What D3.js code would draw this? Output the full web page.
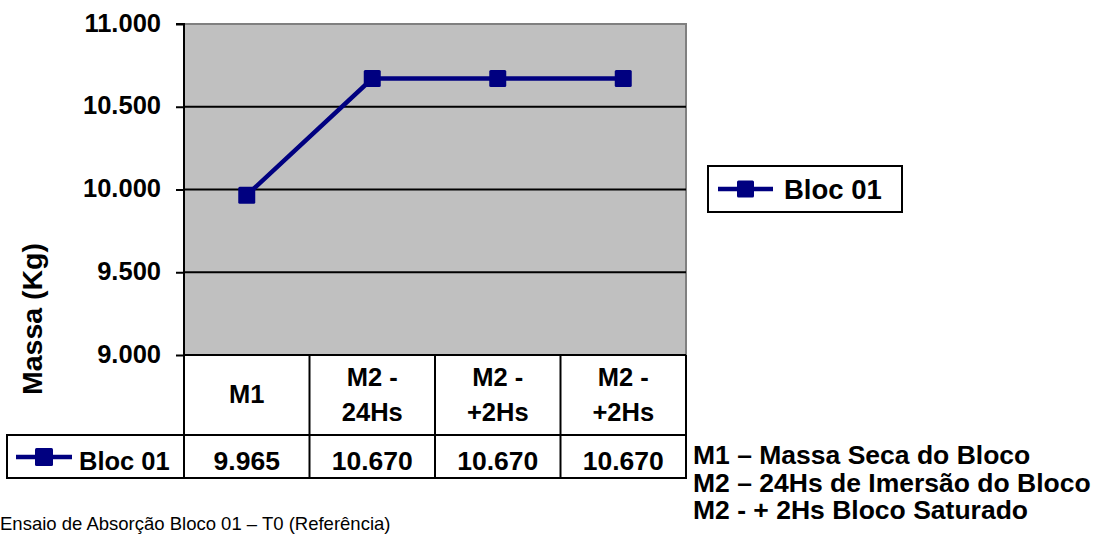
<!DOCTYPE html>
<html>
<head>
<meta charset="utf-8">
<script src="https://cdn.jsdelivr.net/npm/d3@7"></script>
<style>
  html, body { margin: 0; padding: 0; background: #fff; }
  text { font-family: "Liberation Sans", Arial, sans-serif; }
</style>
</head>
<body>
<svg id="chart" width="1106" height="541"></svg>
<script>
// Mass of block 01 across the absorption test stages (values in grams)
const categories = [["M1"], ["M2 -", "24Hs"], ["M2 -", "+2Hs"], ["M2 -", "+2Hs"]];
const seriesName = "Bloc 01";
const values = [9965, 10670, 10670, 10670];
const yTicks = [9000, 9500, 10000, 10500, 11000];
const notes = ["M1 – Massa Seca do Bloco", "M2 – 24Hs de Imersão do Bloco", "M2 - + 2Hs Bloco Saturado"];
const caption = "Ensaio de Absorção Bloco 01 – T0 (Referência)";
const yTitle = "Massa (Kg)";

// kg with three decimals, dot separator
const label = v => (v / 1000).toFixed(3);

const svg = d3.select("#chart");
const navy = "#000080";
const FS = 25.5;

const plot = { left: 184, right: 686, top: 24, bottom: 355 };
const tableLeft = 7, headerBottom = 435, rowBottom = 478;

const x = d3.scaleBand().domain(d3.range(categories.length)).range([plot.left, plot.right]).padding(0);
const y = d3.scaleLinear().domain([9000, 11000]).range([plot.bottom, plot.top]);

// plot background
svg.append("rect")
  .attr("x", plot.left).attr("y", plot.top)
  .attr("width", plot.right - plot.left).attr("height", plot.bottom - plot.top)
  .attr("fill", "#c0c0c0");
// grey frame on top/right
svg.append("path")
  .attr("d", `M${plot.left},${plot.top}H${plot.right}V${plot.bottom}`)
  .attr("fill", "none").attr("stroke", "#808080").attr("stroke-width", 2);

// gridlines
svg.append("g").selectAll("line").data(yTicks.filter(t => t > 9000 && t < 11000)).join("line")
  .attr("x1", plot.left).attr("x2", plot.right)
  .attr("y1", d => y(d)).attr("y2", d => y(d))
  .attr("stroke", "#000").attr("stroke-width", 2);

// y axis
const yAxis = d3.axisLeft(y).tickValues(yTicks).tickSize(8).tickPadding(15).tickFormat(label);
const gy = svg.append("g").attr("transform", `translate(${plot.left},0)`).call(yAxis);
gy.select(".domain").attr("stroke", "#000").attr("stroke-width", 2).attr("d", `M-8,${plot.top}H0V${plot.bottom}`);
gy.selectAll(".tick line").attr("stroke", "#000").attr("stroke-width", 2);
gy.selectAll(".tick text")
  .attr("font-size", FS).attr("font-weight", "bold").attr("fill", "#000")
  .attr("dy", "0.28em")
  .attr("font-family", "Liberation Sans, Arial, sans-serif");

// y title
svg.append("text")
  .attr("transform", `translate(42,319) rotate(-90)`)
  .attr("text-anchor", "middle")
  .attr("font-size", 28.5).attr("font-weight", "bold")
  .text(yTitle);

// data table grid
const tg = svg.append("g").attr("stroke", "#000").attr("stroke-width", 2).attr("fill", "none");
tg.append("line").attr("x1", plot.left).attr("x2", plot.right).attr("y1", plot.bottom).attr("y2", plot.bottom);
tg.append("line").attr("x1", tableLeft - 1).attr("x2", plot.right + 1).attr("y1", headerBottom).attr("y2", headerBottom);
tg.append("line").attr("x1", tableLeft - 1).attr("x2", plot.right + 1).attr("y1", rowBottom).attr("y2", rowBottom);
tg.append("line").attr("x1", tableLeft).attr("x2", tableLeft).attr("y1", headerBottom).attr("y2", rowBottom);
const colEdges = d3.range(categories.length + 1).map(i => i < categories.length ? x(i) : plot.right);
tg.selectAll("line.col").data(colEdges).join("line").attr("class", "col")
  .attr("x1", d => d).attr("x2", d => d)
  .attr("y1", plot.bottom).attr("y2", rowBottom);

// header labels
const hdr = svg.append("g").selectAll("text").data(categories).join("text")
  .attr("text-anchor", "middle")
  .attr("font-size", FS).attr("font-weight", "bold");
hdr.each(function(lines, i) {
  const cx = x(i) + x.bandwidth() / 2;
  const lh = 35;
  const y0 = lines.length === 1 ? 403 : 386;
  d3.select(this).selectAll("tspan").data(lines).join("tspan")
    .attr("x", cx).attr("y", (d, j) => y0 + j * lh).text(d => d);
});

// value row
svg.append("g").selectAll("text").data(values).join("text")
  .attr("x", (d, i) => x(i) + x.bandwidth() / 2)
  .attr("y", 470)
  .attr("text-anchor", "middle")
  .attr("font-size", 26.5).attr("font-weight", "bold")
  .text(d => label(d));

// legend key helper
function key(g, x1, x2, cy, size) {
  g.append("line").attr("x1", x1).attr("x2", x2).attr("y1", cy).attr("y2", cy)
    .attr("stroke", navy).attr("stroke-width", 4.5);
  const cx = (x1 + x2) / 2;
  g.append("rect").attr("x", cx - size / 2).attr("y", cy - size / 2).attr("width", size).attr("height", size)
    .attr("rx", 1.5).attr("fill", navy);
}

// row label
const rl = svg.append("g");
key(rl, 16, 72, 457, 18);
rl.append("text").attr("x", 79).attr("y", 470)
  .attr("font-size", FS).attr("font-weight", "bold").text(seriesName);

// line series
const line = d3.line().x((d, i) => x(i) + x.bandwidth() / 2).y(d => y(d));
svg.append("path").datum(values).attr("d", line)
  .attr("fill", "none").attr("stroke", navy).attr("stroke-width", 4.5);
svg.append("g").selectAll("rect").data(values).join("rect")
  .attr("x", (d, i) => x(i) + x.bandwidth() / 2 - 8.5)
  .attr("y", d => y(d) - 8.5)
  .attr("width", 17).attr("height", 17).attr("rx", 1.5)
  .attr("fill", navy);

// legend
const lg = svg.append("g");
lg.append("rect").attr("x", 708).attr("y", 166).attr("width", 194).attr("height", 46)
  .attr("fill", "#fff").attr("stroke", "#000").attr("stroke-width", 2);
key(lg, 718, 773, 189, 17);
lg.append("text").attr("x", 784).attr("y", 199)
  .attr("font-size", 27.5).attr("font-weight", "bold").text(seriesName);

// notes
svg.append("g").selectAll("text").data(notes).join("text")
  .attr("x", 693).attr("y", (d, i) => 464 + i * 27.5)
  .attr("font-size", 26.5).attr("font-weight", "bold").text(d => d);

// caption
svg.append("text").attr("x", 0).attr("y", 530)
  .attr("font-size", 18.5).text(caption);
</script>
</body>
</html>
